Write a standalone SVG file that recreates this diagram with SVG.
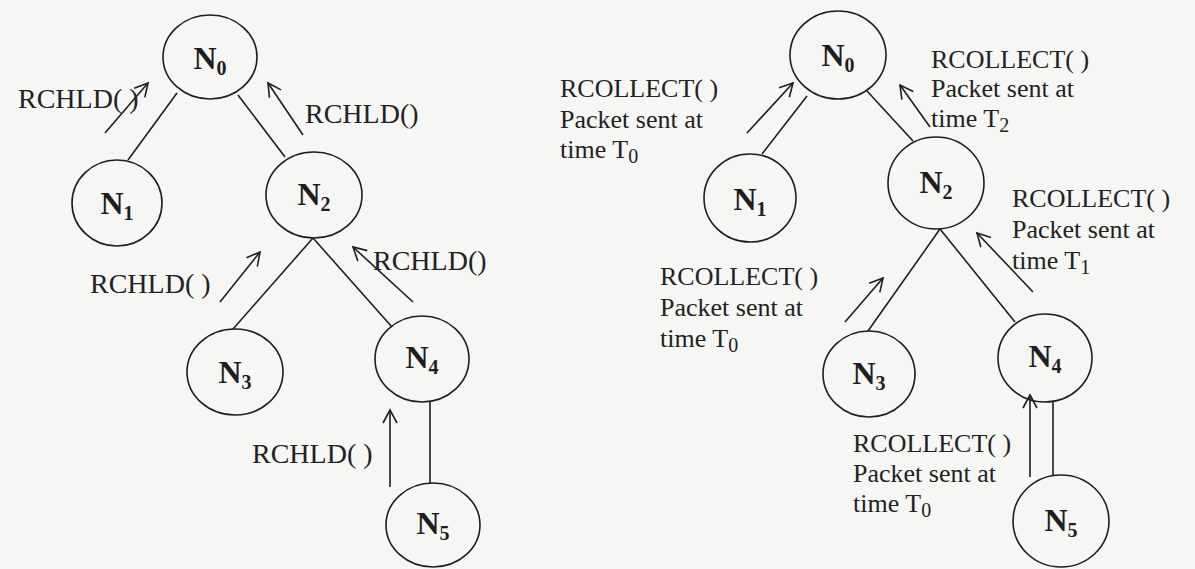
<svg xmlns="http://www.w3.org/2000/svg" width="1195" height="569" viewBox="0 0 1195 569">
<style>
.node ellipse{fill:none;stroke:#1e1e1e;stroke-width:1.6}
.nl{font-family:"Liberation Serif",serif;font-weight:bold;font-size:32px;fill:#1e1e1e;text-anchor:middle}
.sub{font-size:20px}
.lbl{font-family:"Liberation Serif",serif;font-size:28px;fill:#222}
.lbr{font-family:"Liberation Serif",serif;font-size:26px;fill:#222}
.edge{stroke:#1e1e1e;stroke-width:1.6;fill:none}
.arr{stroke:#1e1e1e;stroke-width:1.6;fill:none;marker-end:url(#ah)}
</style>
<defs>
<marker id="ah" viewBox="0 0 16 16" refX="14" refY="8" markerWidth="16" markerHeight="16" markerUnits="userSpaceOnUse" orient="auto">
<path d="M1,1 L14,8 L1,15" fill="none" stroke="#1e1e1e" stroke-width="1.6"/>
</marker>
</defs>
<rect width="1195" height="569" fill="#f6f6f4"/>

<g id="connectors">
<line class="edge" x1="177" y1="93" x2="128" y2="160"/>
<line class="edge" x1="238" y1="95" x2="285" y2="157"/>
<line class="edge" x1="313" y1="238" x2="233" y2="329"/>
<line class="edge" x1="313" y1="238" x2="392" y2="327"/>
<line class="edge" x1="430" y1="402" x2="430" y2="483"/>
<line class="arr" x1="105" y1="133" x2="148" y2="83"/>
<line class="arr" x1="303" y1="135" x2="268" y2="83"/>
<line class="arr" x1="220" y1="302" x2="260" y2="252"/>
<line class="arr" x1="413" y1="302" x2="353" y2="247"/>
<line class="arr" x1="390" y1="487" x2="390" y2="410"/>

<line class="edge" x1="807" y1="96" x2="762" y2="154"/>
<line class="edge" x1="867" y1="91" x2="913" y2="141"/>
<line class="edge" x1="940" y1="229" x2="868" y2="331"/>
<line class="edge" x1="940" y1="229" x2="1015" y2="322"/>
<line class="edge" x1="1053" y1="402" x2="1053" y2="475"/>
<line class="arr" x1="747" y1="133" x2="793" y2="83"/>
<line class="arr" x1="930" y1="127" x2="900" y2="85"/>
<line class="arr" x1="845" y1="322" x2="883" y2="278"/>
<line class="arr" x1="1033" y1="292" x2="977" y2="233"/>
<line class="arr" x1="1030" y1="477" x2="1030" y2="395"/>
</g>

<g id="labels-left">
<text class="lbl" x="18" y="108">RCHLD( )</text>
<text class="lbl" x="305" y="123">RCHLD()</text>
<text class="lbl" x="90" y="293">RCHLD( )</text>
<text class="lbl" x="373" y="270">RCHLD()</text>
<text class="lbl" x="252" y="463">RCHLD( )</text>
</g>

<g id="labels-right">
<text class="lbr" x="560" y="97">RCOLLECT( )</text>
<text class="lbr" x="560" y="128">Packet sent at</text>
<text class="lbr" x="560" y="158">time T<tspan class="sub" dy="5">0</tspan></text>

<text class="lbr" x="931" y="68">RCOLLECT( )</text>
<text class="lbr" x="931" y="97">Packet sent at</text>
<text class="lbr" x="931" y="127">time T<tspan class="sub" dy="5">2</tspan></text>

<text class="lbr" x="660" y="285">RCOLLECT( )</text>
<text class="lbr" x="660" y="316">Packet sent at</text>
<text class="lbr" x="660" y="347">time T<tspan class="sub" dy="5">0</tspan></text>

<text class="lbr" x="1012" y="207">RCOLLECT( )</text>
<text class="lbr" x="1012" y="238">Packet sent at</text>
<text class="lbr" x="1012" y="269">time T<tspan class="sub" dy="5">1</tspan></text>

<text class="lbr" x="853" y="452">RCOLLECT( )</text>
<text class="lbr" x="853" y="482">Packet sent at</text>
<text class="lbr" x="853" y="512">time T<tspan class="sub" dy="5">0</tspan></text>
</g>

<g id="L-N0" class="node"><ellipse cx="210" cy="57" rx="47" ry="42"/><text class="nl" x="210" y="69">N<tspan class="sub" dy="6">0</tspan></text></g>
<g id="L-N1" class="node"><ellipse cx="117" cy="203" rx="45" ry="43"/><text class="nl" x="117" y="214">N<tspan class="sub" dy="6">1</tspan></text></g>
<g id="L-N2" class="node"><ellipse cx="314" cy="195" rx="48" ry="43"/><text class="nl" x="314" y="205">N<tspan class="sub" dy="6">2</tspan></text></g>
<g id="L-N3" class="node"><ellipse cx="235" cy="372" rx="48" ry="43"/><text class="nl" x="235" y="383">N<tspan class="sub" dy="6">3</tspan></text></g>
<g id="L-N4" class="node"><ellipse cx="422" cy="359" rx="47" ry="43"/><text class="nl" x="422" y="368">N<tspan class="sub" dy="6">4</tspan></text></g>
<g id="L-N5" class="node"><ellipse cx="433" cy="525" rx="47" ry="42"/><text class="nl" x="433" y="534">N<tspan class="sub" dy="6">5</tspan></text></g>

<g id="R-N0" class="node"><ellipse cx="838" cy="55" rx="48" ry="44"/><text class="nl" x="838" y="66">N<tspan class="sub" dy="6">0</tspan></text></g>
<g id="R-N1" class="node"><ellipse cx="750" cy="198" rx="46" ry="44"/><text class="nl" x="750" y="210">N<tspan class="sub" dy="6">1</tspan></text></g>
<g id="R-N2" class="node"><ellipse cx="936" cy="183" rx="48" ry="46"/><text class="nl" x="936" y="193">N<tspan class="sub" dy="6">2</tspan></text></g>
<g id="R-N3" class="node"><ellipse cx="869" cy="374" rx="46" ry="43"/><text class="nl" x="869" y="384">N<tspan class="sub" dy="6">3</tspan></text></g>
<g id="R-N4" class="node"><ellipse cx="1045" cy="358" rx="47" ry="44"/><text class="nl" x="1045" y="367">N<tspan class="sub" dy="6">4</tspan></text></g>
<g id="R-N5" class="node"><ellipse cx="1061" cy="521" rx="48" ry="46"/><text class="nl" x="1061" y="531">N<tspan class="sub" dy="6">5</tspan></text></g>
</svg>
